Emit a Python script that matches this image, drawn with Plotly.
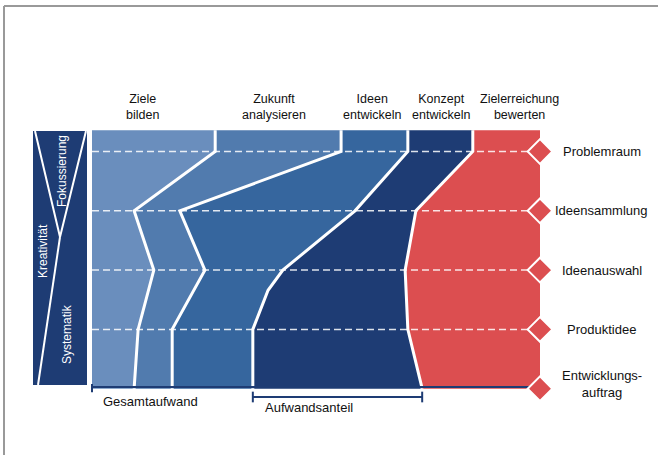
import plotly.graph_objects as go

# ---------------- data ----------------
stages = ["Ziele\nbilden", "Zukunft\nanalysieren", "Ideen\nentwickeln",
          "Konzept\nentwickeln", "Zielerreichung\nbewerten"]
stage_label_x = [11.2, 40.6, 62.5, 77.9, 95.5]      # % of total effort
milestones = ["Problemraum", "Ideensammlung", "Ideenauswahl", "Produktidee",
              "Entwicklungs-\nauftrag"]
milestone_level = [0, 1, 2, 3, 4]
top_level = -0.36

# phase boundaries (cumulative effort share in %) at each level
levels = [top_level, 0, 1, 2, 3, 4]
b1 = [27.5, 27.5, 9.4, 13.8, 10.3, 9.4]
b2 = [55.6, 55.6, 19.6, 25.2, 17.9, 17.9]
b3_levels = [top_level, 0, 1, 2, 2.34, 3, 4]
b3 = [70.5, 70.5, 58.7, 42.6, 39.3, 35.9, 35.9]
b4 = [85.0, 85.0, 72.3, 69.9, 70.5, 73.7]

side_labels = ["Kreativität", "Fokussierung", "Systematik"]
effort_labels = ["Gesamtaufwand", "Aufwandsanteil"]

colors = ["#6a8ebd", "#517bae", "#36669e", "#1e3c74", "#dc4e50"]
navy = "#1e3c74"
FONT = "Liberation Sans, Arial, sans-serif"

# ---------------- geometry helpers ----------------
W, H = 658, 455
X0PX, XSCALE = 92.0, 4.48      # px of 0 % and px per %
Y0PX, YSCALE = 151.5, 59.3     # px of level 0 and px per level
xr = [-X0PX / XSCALE, (W - X0PX) / XSCALE]
yr = [(H - Y0PX) / YSCALE, -Y0PX / YSCALE]


def px(x):
    return x / W


def py(y):
    return 1 - y / H


bounds = [
    ([top_level, 4], [0, 0]),
    (levels, b1),
    (levels, b2),
    (b3_levels, b3),
    (levels, b4),
    ([top_level, 4], [100, 100]),
]

fig = go.Figure()

# phase areas
for i in range(5):
    ly, lx = bounds[i]
    ry, rx = bounds[i + 1]
    xs = list(lx) + list(rx)[::-1] + [lx[0]]
    ys = list(ly) + list(ry)[::-1] + [ly[0]]
    fig.add_trace(go.Scatter(x=xs, y=ys, mode="lines", fill="toself",
                             fillcolor=colors[i], line=dict(width=0, color=colors[i]),
                             hoverinfo="skip", showlegend=False))

# dashed milestone lines
for lv in milestone_level[:-1]:
    fig.add_trace(go.Scatter(x=[0, 100], y=[lv, lv], mode="lines",
                             line=dict(color="rgba(255,255,255,0.85)", width=1.5, dash="7px,4px"),
                             hoverinfo="skip", showlegend=False))

# white boundary lines
for ly, lx in bounds[1:5]:
    fig.add_trace(go.Scatter(x=lx, y=ly, mode="lines",
                             line=dict(color="white", width=3),
                             hoverinfo="skip", showlegend=False))

# bottom total effort line with tick
fig.add_trace(go.Scatter(x=[0, 0, None, 0, 100], y=[3.92, 4.06, None, 3.97, 3.97], mode="lines",
                         line=dict(color=navy, width=2), hoverinfo="skip", showlegend=False))

# effort share bracket (Konzept entwickeln at the end)
bx0, bx1 = b3[-1], b4[-1]
fig.add_trace(go.Scatter(x=[bx0, bx0, None, bx0, bx1, None, bx1, bx1],
                         y=[4.05, 4.23, None, 4.14, 4.14, None, 4.05, 4.23], mode="lines",
                         line=dict(color=navy, width=2), hoverinfo="skip", showlegend=False))

# milestone diamonds
fig.add_trace(go.Scatter(x=[100] * len(milestone_level), y=milestone_level, mode="markers",
                         marker=dict(symbol="diamond", size=19, color=colors[4],
                                     line=dict(color="white", width=2)),
                         hoverinfo="skip", showlegend=False))

annotations = []
# stage labels (two-line)
for lab, x in zip(stages, stage_label_x):
    annotations.append(dict(x=x, y=-0.75, text=lab.replace("\n", "<br>"), showarrow=False,
                            xref="x", yref="y", xanchor="center", yanchor="middle",
                            font=dict(family=FONT, size=12.5, color="#111")))
# milestone labels
for lab, lv in zip(milestones, milestone_level):
    multi = "\n" in lab
    annotations.append(dict(x=113.8, y=lv - 0.08 if multi else lv,
                            text=lab.replace("\n", "<br>"), showarrow=False,
                            xref="x", yref="y", xanchor="center", yanchor="middle",
                            font=dict(family=FONT, size=13, color="#111")))
# effort labels
annotations.append(dict(x=13.1, y=4.22, text=effort_labels[0], showarrow=False,
                        xref="x", yref="y", xanchor="center", yanchor="middle",
                        font=dict(family=FONT, size=13, color="#111")))
annotations.append(dict(x=48.5, y=4.31, text=effort_labels[1], showarrow=False,
                        xref="x", yref="y", xanchor="center", yanchor="middle",
                        font=dict(family=FONT, size=13, color="#111")))

# side panel labels (rotated)
for t, (cx, cy) in zip(side_labels, [(43, 251), (62, 171), (67, 334)]):
    annotations.append(dict(x=px(cx), y=py(cy), text=t, showarrow=False, textangle=-90,
                            xref="paper", yref="paper", xanchor="center", yanchor="middle",
                            font=dict(family=FONT, size=12, color="white")))

shapes = [
    # frame
    dict(type="line", xref="paper", yref="paper", x0=px(4), x1=px(658), y0=py(6), y1=py(6),
         line=dict(color="#999999", width=2)),
    dict(type="line", xref="paper", yref="paper", x0=px(4), x1=px(4), y0=py(6), y1=py(455),
         line=dict(color="#999999", width=2)),
    # side panel
    dict(type="rect", xref="paper", yref="paper", x0=px(33), x1=px(87), y0=py(385), y1=py(131),
         fillcolor=navy, line=dict(width=0)),
    dict(type="path", xref="paper", yref="paper",
         path=f"M{px(35)},{py(131)} L{px(60)},{py(237)} L{px(86)},{py(131)}",
         line=dict(color="white", width=2)),
    dict(type="path", xref="paper", yref="paper",
         path=f"M{px(60)},{py(237)} L{px(38)},{py(385)}",
         line=dict(color="white", width=2)),
]

fig.update_layout(
    width=W, height=H,
    margin=dict(l=0, r=0, t=0, b=0),
    paper_bgcolor="white", plot_bgcolor="white",
    xaxis=dict(range=xr, visible=False, fixedrange=True),
    yaxis=dict(range=yr, visible=False, fixedrange=True),
    annotations=annotations, shapes=shapes,
    showlegend=False,
)

fig.write_html("out.html",
               config={"displayModeBar": False},
               post_script="document.body.style.margin='0';document.body.style.overflow='hidden';")
